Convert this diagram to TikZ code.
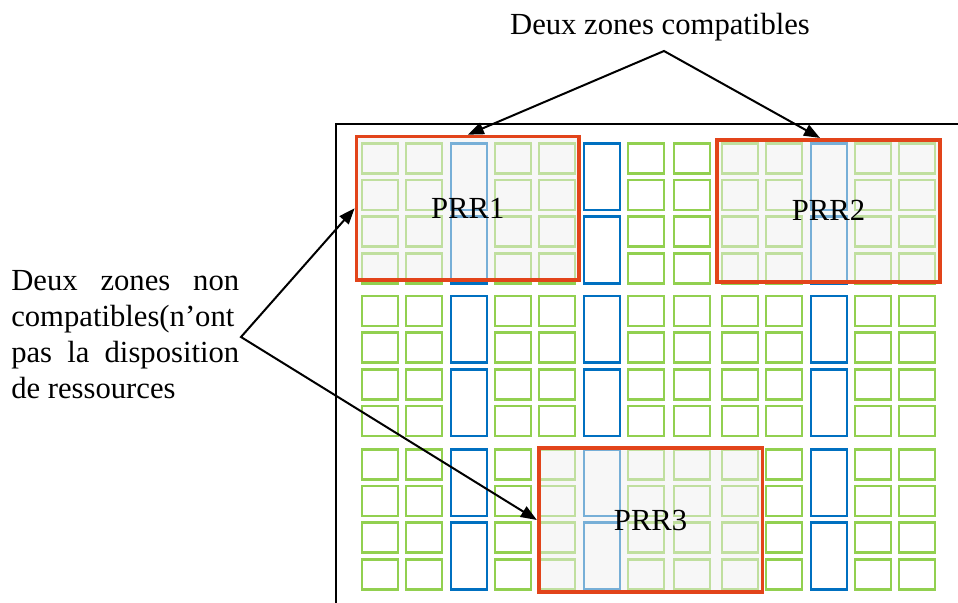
\documentclass[tikz,border=0pt]{standalone}
\usepackage{fontspec}
\setmainfont{Liberation Serif}
\usetikzlibrary{arrows.meta}

\definecolor{cellgreen}{HTML}{92D050}
\definecolor{cellblue}{HTML}{0070C0}
\definecolor{prrred}{HTML}{E2441A}
\definecolor{prrgray}{HTML}{EFEFEF}

\hyphenpenalty=10000
\tolerance=10000

\begin{document}
\begin{tikzpicture}[x=0.75pt,y=-0.75pt,
  gcell/.style={draw=cellgreen, line width=1.9pt},
  bcell/.style={draw=cellblue, line width=1.9pt},
  prr/.style={draw=prrred, line width=2.8pt, fill=prrgray, fill opacity=0.5,
    text opacity=1, inner sep=0pt, font=\fontsize{23}{27}\selectfont},
  lbl/.style={inner sep=0pt, font=\fontsize{23}{27}\selectfont},
  arr/.style={line width=1.5pt,
    {Triangle[length=12pt,width=9pt]}-{Triangle[length=12pt,width=9pt]}}]

\useasboundingbox (0,0) rectangle (958,603);

\newcommand\CELLW{36}
\newcommand\CELLH{30}
\newcommand\ROWP{36.7}

\newcommand\BLKA{143.3}
\newcommand\BLKB{296}
\newcommand\BLKC{449.3}

\newcommand\GCOL[2]{%
  \draw[gcell] (#1,#2) rectangle ++(\CELLW,\CELLH);
  \draw[gcell] (#1,#2+\ROWP) rectangle ++(\CELLW,\CELLH);
  \draw[gcell] (#1,#2+2*\ROWP) rectangle ++(\CELLW,\CELLH);
  \draw[gcell] (#1,#2+3*\ROWP) rectangle ++(\CELLW,\CELLH);}
\newcommand\BCOL[2]{%
  \draw[bcell] (#1,#2) rectangle ++(\CELLW,\CELLH+\ROWP);
  \draw[bcell] (#1,#2+2*\ROWP) rectangle ++(\CELLW,\CELLH+\ROWP);}

\draw[line width=1.5pt] (336,603) -- (336,124) -- (958,124);
%%

\GCOL{362}{\BLKA}
\GCOL{406}{\BLKA}
\BCOL{451}{\BLKA}
\GCOL{495}{\BLKA}
\GCOL{539}{\BLKA}
\BCOL{584}{\BLKA}
\GCOL{628}{\BLKA}
\GCOL{674}{\BLKA}
\GCOL{722}{\BLKA}
\GCOL{766}{\BLKA}
\BCOL{811}{\BLKA}
\GCOL{855}{\BLKA}
\GCOL{899}{\BLKA}
%%

\GCOL{362}{\BLKB}
\GCOL{406}{\BLKB}
\BCOL{451}{\BLKB}
\GCOL{495}{\BLKB}
\GCOL{539}{\BLKB}
\BCOL{584}{\BLKB}
\GCOL{628}{\BLKB}
\GCOL{674}{\BLKB}
\GCOL{722}{\BLKB}
\GCOL{766}{\BLKB}
\BCOL{811}{\BLKB}
\GCOL{855}{\BLKB}
\GCOL{899}{\BLKB}
%%

\GCOL{362}{\BLKC}
\GCOL{406}{\BLKC}
\BCOL{451}{\BLKC}
\GCOL{495}{\BLKC}
\GCOL{539}{\BLKC}
\BCOL{584}{\BLKC}
\GCOL{628}{\BLKC}
\GCOL{674}{\BLKC}
\GCOL{722}{\BLKC}
\GCOL{766}{\BLKC}
\BCOL{811}{\BLKC}
\GCOL{855}{\BLKC}
\GCOL{899}{\BLKC}
%%

\node[prr, minimum width=167pt, minimum height=107.6pt] (prr1) at (467.8,208.3) {PRR1};
\node[prr, minimum width=167.5pt, minimum height=106.5pt] (prr2) at (828.5,210.8) {PRR2};
\node[prr, minimum width=167.8pt, minimum height=107.7pt] (prr3) at (650.6,520) {PRR3};
%%

\node[lbl, anchor=base] (compat) at (660,35) {Deux zones compatibles};
\node[lbl, anchor=north west, text width=171pt, align=justify] (noncompat) at (11,270.5)
  {Deux zones non compatibles(n'ont pas la disposition de ressources};

\coordinate (cmp) at (664,51);
\coordinate (ncmp) at (241,337);

\draw[arr] (prr1.north) -- (cmp) -- ([xshift=-6.4pt]prr2.north);
\draw[arr] (prr1.west) -- (ncmp) -- (prr3.west);

\end{tikzpicture}
\end{document}
